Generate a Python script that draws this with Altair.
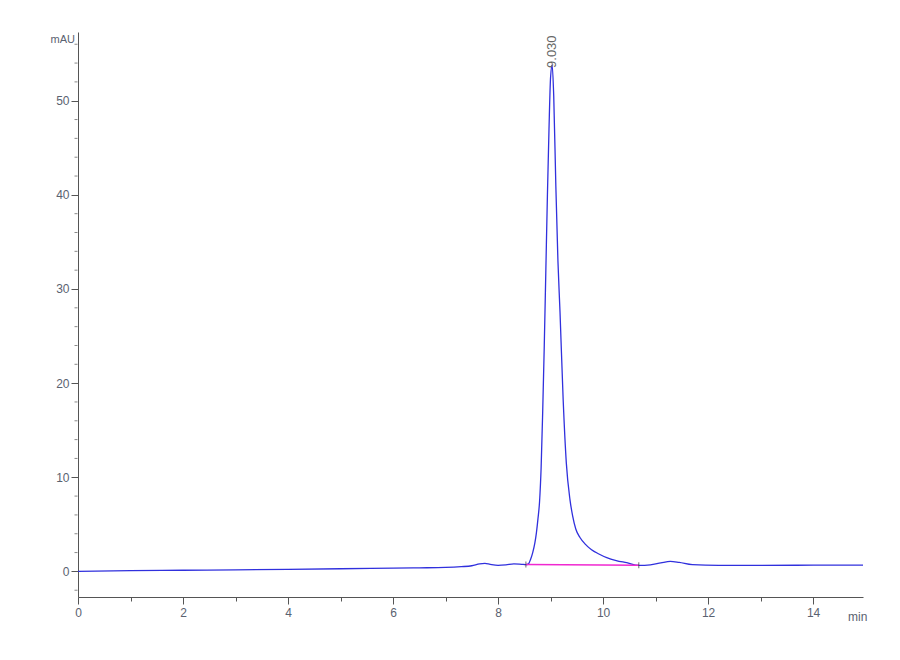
import altair as alt
import pandas as pd

# Chromatogram trace (time in min, absorbance in mAU)
time_min = [0, 1, 2, 3, 4, 5, 6, 6.5, 7, 7.3, 7.5, 7.65, 7.75, 7.85, 8.0, 8.15, 8.3, 8.45,
            8.53, 8.58, 8.62, 8.66, 8.70, 8.73, 8.76, 8.79, 8.82, 8.85, 8.88, 8.91, 8.94, 8.97,
            9.00, 9.03, 9.06, 9.10, 9.14, 9.18, 9.24, 9.30, 9.37, 9.42, 9.48, 9.56, 9.66, 9.78,
            9.92, 10.07, 10.25, 10.45, 10.68, 10.9, 11.1, 11.28, 11.45, 11.7, 12.2, 13, 14, 14.95]
signal_mau = [0.0, 0.08, 0.12, 0.17, 0.22, 0.28, 0.35, 0.38, 0.42, 0.5, 0.6, 0.8, 0.85, 0.75,
              0.65, 0.7, 0.8, 0.75, 0.72, 0.8, 1.3, 2.0, 3.0, 4.1, 5.6, 7.4, 11.0, 17.0, 24.0,
              32.0, 40.0, 47.0, 52.5, 53.8, 50.5, 41.0, 33.0, 27.5, 18.2, 11.5, 7.6, 5.9, 4.5,
              3.6, 2.9, 2.3, 1.85, 1.46, 1.15, 0.92, 0.64, 0.7, 0.9, 1.06, 0.95, 0.71, 0.64,
              0.64, 0.66, 0.66]

# Integration baseline of the main peak
base_time = [8.53, 10.68]
base_mau = [0.72, 0.66]

# Peak label
peak_rt = [9.03]
peak_height = [53.8]
peak_text = ["9.030"]

y_major = [0, 10, 20, 30, 40, 50]
y_minor = [v for v in range(-2, 57, 2) if v % 10 != 0]
x_ticks = [i * 0.5 for i in range(0, 30)]

trace = pd.DataFrame({"t": time_min, "v": signal_mau})
base = pd.DataFrame({"t": base_time, "v": base_mau})
peak = pd.DataFrame({"t": peak_rt, "v": peak_height, "label": peak_text})
minor = pd.DataFrame({"v": y_minor})

label_color = "#5a6270"
axis_color = "#555555"
font = "Liberation Sans"

x_scale = alt.Scale(domain=[0, 14.95], nice=False, zero=False)
y_scale = alt.Scale(domain=[-2.72, 57.3], nice=False, zero=False)

x_axis = alt.Axis(
    values=x_ticks,
    labelExpr="datum.value % 2 === 0 ? datum.label : ''",
    tickSize={"condition": {"test": "datum.value % 2 === 0", "value": 7}, "value": 4},
    title=None, grid=False, domainColor=axis_color, tickColor=axis_color,
    labelColor=label_color, labelFont=font, labelFontSize=12, labelPadding=3,
    format="d", labelFlush=False, labelOverlap=False,
)
y_axis = alt.Axis(
    values=y_major, tickSize=7,
    title=None, grid=False, domainColor=axis_color, tickColor=axis_color,
    labelColor=label_color, labelFont=font, labelFontSize=12, labelPadding=2,
    labelOverlap=False, labelFlush=False,
)

line = alt.Chart(trace).mark_line(color="#3030dd", strokeWidth=1.3, interpolate="monotone", clip=True).encode(
    x=alt.X("t:Q", scale=x_scale, axis=x_axis),
    y=alt.Y("v:Q", scale=y_scale, axis=y_axis),
)

minor_ticks = alt.Chart(minor).mark_tick(color=axis_color, size=3, thickness=1, orient="horizontal").encode(
    x=alt.value(-2),
    y=alt.Y("v:Q", scale=y_scale),
)

baseline = alt.Chart(base).mark_line(color="#f028d0", strokeWidth=1.5).encode(
    x=alt.X("t:Q", scale=x_scale),
    y=alt.Y("v:Q", scale=y_scale),
)

base_ticks = alt.Chart(base).mark_tick(color="#333333", size=6, thickness=1, orient="vertical").encode(
    x=alt.X("t:Q", scale=x_scale),
    y=alt.Y("v:Q", scale=y_scale),
)

peak_label = alt.Chart(peak).mark_text(
    angle=270, align="left", baseline="middle", fontSize=13, font=font, color="#666666", dx=-3
).encode(
    x=alt.X("t:Q", scale=x_scale),
    y=alt.Y("v:Q", scale=y_scale),
    text="label:N",
)

mau_label = alt.Chart(peak).mark_text(
    align="right", baseline="middle", fontSize=11, font=font, color=label_color
).encode(x=alt.value(-3), y=alt.value(8), text=alt.value("mAU"))

min_label = alt.Chart(peak).mark_text(
    align="left", baseline="middle", fontSize=12, font=font, color=label_color
).encode(x=alt.value(770), y=alt.value(585), text=alt.value("min"))

chart = alt.layer(line, minor_ticks, baseline, base_ticks, peak_label, mau_label, min_label).properties(
    width=785, height=565,
    autosize=alt.AutoSizeParams(type="none"),
    padding={"left": 70, "top": 24, "right": 29, "bottom": 55},
    background="white",
).configure_view(stroke=None)

chart.save("out.html", embed_options={"renderer": "svg", "actions": False})
